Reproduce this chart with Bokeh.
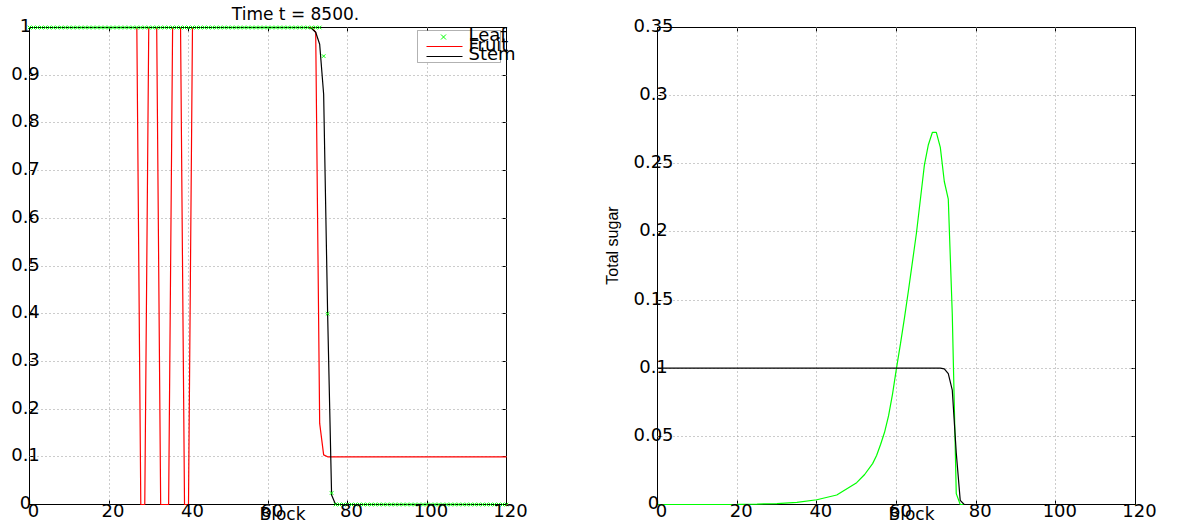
import math
from bokeh.plotting import figure
from bokeh.models import Range1d, LinearAxis, FixedTicker, Label, BoxAnnotation, Arrow, Grid
from bokeh.layouts import row
from bokeh.embed import file_html
from bokeh.resources import INLINE

# ---------------- data ----------------
leaf_blocks = list(range(0, 121))
leaf_state = [1.0] * 74 + [0.94, 0.40, 0.024] + [0.0] * 44

fruit_blocks = [0, 27, 28, 29, 30, 32, 33, 35, 36, 38, 39, 40, 41, 71, 72, 73, 74, 75, 120]
fruit_state = [1.0, 1.0, 0.0, 0.0, 1.0, 1.0, 0.0, 0.0, 1.0, 1.0, 0.0, 0.0, 1.0, 1.0, 0.99, 0.17, 0.104, 0.1, 0.1]

stem_blocks = [0, 70, 71, 72, 73, 74, 75, 76, 77, 120]
stem_state = [1.0, 1.0, 0.998, 0.99, 0.965, 0.86, 0.40, 0.02, 0.0, 0.0]

sugar_leaf_blocks = [0, 15, 20, 25, 30, 35, 40, 45, 50, 52, 54, 55, 56, 57, 58, 59, 60, 61, 62,
                     63, 64, 65, 66, 67, 68, 69, 70, 71, 72, 73, 74, 75, 76, 120]
sugar_leaf = [0.0, 0.0, 0.0001, 0.0003, 0.0007, 0.0015, 0.0035, 0.007, 0.016, 0.022, 0.030,
              0.036, 0.044, 0.053, 0.065, 0.081, 0.100, 0.118, 0.137, 0.157, 0.178, 0.199,
              0.224, 0.249, 0.264, 0.273, 0.273, 0.262, 0.237, 0.224, 0.14, 0.008, 0.0, 0.0]

sugar_stem_blocks = [0, 71, 72, 73, 74, 75, 76, 77, 120]
sugar_stem = [0.1, 0.1, 0.0995, 0.096, 0.084, 0.038, 0.003, 0.0, 0.0]

x_ticks = [0, 20, 40, 60, 80, 100, 120]
x_tick_labels = ["0", "20", "40", "60", "80", "100", "120"]
left_y_ticks = [0, 0.1, 0.2, 0.3, 0.4, 0.5, 0.6, 0.7, 0.8, 0.9, 1.0]
left_y_tick_labels = ["0", "0.1", "0.2", "0.3", "0.4", "0.5", "0.6", "0.7", "0.8", "0.9", "1"]
right_y_ticks = [0, 0.05, 0.1, 0.15, 0.2, 0.25, 0.3, 0.35]
right_y_tick_labels = ["0", "0.05", "0.1", "0.15", "0.2", "0.25", "0.3", "0.35"]

title_text = "Time t = 8500."
x_label_text = "Block"
right_y_label_text = "Total sugar"
legend_labels = ["Leaf", "Fruit", "Stem"]

# ---------------- styles / layout ----------------
FONT = "DejaVu Sans"
TICK_FS = "18px"
GREEN = "#00ff00"
RED = "#ff0000"
BLACK = "#000000"
GRID_COLOR = "#999999"
LW = 1.2
FIG_H = 524
HAS_CROSS_BOUNDS = "cross_bounds" in Grid.properties()


class Panel:
    """A figure whose frame fills the whole canvas; the axes box sits at given page pixels."""

    def __init__(self, fig_left, fig_w, box_l, box_r, box_t, box_b, x_end, y_end):
        self.fig_left = fig_left
        self.box_l, self.box_b = box_l, box_b
        self.ppx = (box_r - box_l) / x_end
        self.ppy = (box_b - box_t) / y_end
        self.x_end, self.y_end = x_end, y_end
        p = figure(width=fig_w, height=FIG_H,
                   x_range=Range1d(-(box_l - fig_left) / self.ppx,
                                   x_end + (fig_left + fig_w - box_r) / self.ppx),
                   y_range=Range1d(-(FIG_H - box_b) / self.ppy, y_end + box_t / self.ppy),
                   output_backend="svg", toolbar_location=None, tools="",
                   min_border_left=0, min_border_right=0, min_border_top=0, min_border_bottom=0)
        p.outline_line_color = None
        p.background_fill_color = "white"
        p.border_fill_color = "white"
        self.p = p

    # page pixel -> data
    def dx(self, page_x):
        return (page_x - self.box_l) / self.ppx

    def dy(self, page_y):
        return (self.box_b - page_y) / self.ppy


def style_axis(ax, ticks, loc, bounds):
    ax.ticker = FixedTicker(ticks=ticks)
    ax.fixed_location = loc
    ax.bounds = bounds
    ax.axis_line_color = BLACK
    ax.axis_line_width = 1
    ax.major_tick_in = 4
    ax.major_tick_out = 0
    ax.major_tick_line_color = BLACK
    ax.minor_tick_line_color = None
    ax.major_label_text_color = None
    ax.major_label_standoff = 0
    ax.level = "underlay"


def text_label(x, y, text, size, align="center", font=FONT, **kw):
    return Label(x=x, y=y, text=text, text_align=align, text_baseline="middle",
                 text_font=font, text_font_size=size, text_color=BLACK, **kw)


def setup_axes(P, y_ticks, y_labels):
    p = P.p
    # dotted grid limited to the axes box
    inner_x = x_ticks[1:-1]
    inner_y = y_ticks[1:-1]
    if HAS_CROSS_BOUNDS:
        p.xgrid.ticker = FixedTicker(ticks=inner_x)
        p.ygrid.ticker = FixedTicker(ticks=inner_y)
        p.xgrid.cross_bounds = (0, P.y_end)
        p.ygrid.cross_bounds = (0, P.x_end)
        p.grid.grid_line_color = GRID_COLOR
        p.grid.grid_line_dash = "1 3"
        p.grid.grid_line_width = 1
    else:
        p.grid.visible = False
        p.multi_line([[t, t] for t in inner_x], [[0, P.y_end] for _ in inner_x],
                     line_color=GRID_COLOR, line_dash="1 3", line_width=1, level="underlay")
        p.multi_line([[0, P.x_end] for _ in inner_y], [[t, t] for t in inner_y],
                     line_color=GRID_COLOR, line_dash="1 3", line_width=1, level="underlay")
    style_axis(p.xaxis[0], x_ticks, 0, (0, P.x_end))
    style_axis(p.yaxis[0], y_ticks, 0, (0, P.y_end))
    top = LinearAxis()
    style_axis(top, x_ticks, P.y_end, (0, P.x_end))
    p.add_layout(top, "above")
    right = LinearAxis()
    style_axis(right, y_ticks, P.x_end, (0, P.y_end))
    p.add_layout(right, "right")
    for v, t in zip(x_ticks, x_tick_labels):
        p.add_layout(text_label(v, 0, t, TICK_FS, x_offset=4, y_offset=-6))
    for v, t in zip(y_ticks, y_labels):
        p.add_layout(text_label(0, v, t, TICK_FS, x_offset=-4, y_offset=2))


# ---------------- left panel ----------------
L = Panel(fig_left=0, fig_w=578, box_l=29, box_r=506, box_t=27, box_b=504, x_end=120, y_end=1.0)
pl = L.p
setup_axes(L, left_y_ticks, left_y_tick_labels)
pl.line(fruit_blocks, fruit_state, line_color=RED, line_width=LW)
pl.line(stem_blocks, stem_state, line_color=BLACK, line_width=LW)
pl.scatter(leaf_blocks, leaf_state, marker="x", size=5, line_color=GREEN, line_width=1)

pl.add_layout(text_label(L.dx(295), L.dy(13.5), title_text, "17px"))
pl.add_layout(text_label(L.dx(282), L.dy(513), x_label_text, "17px"))

# legend (drawn by hand to keep the overlapping look of the reference)
pl.add_layout(BoxAnnotation(left=L.dx(417), right=L.dx(500), top=L.dy(30), bottom=L.dy(62),
                            fill_color="white", fill_alpha=1.0, line_color=BLACK, line_width=1))
mx, my, ms = 443, 36.5, 2.5
pl.add_layout(Arrow(end=None, x_start=L.dx(mx - ms), y_start=L.dy(my - ms),
                    x_end=L.dx(mx + ms), y_end=L.dy(my + ms), line_color=GREEN, line_width=1))
pl.add_layout(Arrow(end=None, x_start=L.dx(mx - ms), y_start=L.dy(my + ms),
                    x_end=L.dx(mx + ms), y_end=L.dy(my - ms), line_color=GREEN, line_width=1))
pl.add_layout(Arrow(end=None, x_start=L.dx(426), y_start=L.dy(46), x_end=L.dx(462), y_end=L.dy(46),
                    line_color=RED, line_width=LW))
pl.add_layout(Arrow(end=None, x_start=L.dx(426), y_start=L.dy(56), x_end=L.dx(462), y_end=L.dy(56),
                    line_color=BLACK, line_width=LW))
for txt, mid in zip(legend_labels, [33.5, 43.5, 53]):
    pl.add_layout(text_label(L.dx(468), L.dy(mid), txt, "18px", align="left"))

# ---------------- right panel ----------------
R = Panel(fig_left=578, fig_w=592, box_l=657, box_r=1135, box_t=27, box_b=504, x_end=120, y_end=0.35)
pr = R.p
setup_axes(R, right_y_ticks, right_y_tick_labels)
pr.line(sugar_leaf_blocks, sugar_leaf, line_color=GREEN, line_width=LW)
pr.line(sugar_stem_blocks, sugar_stem, line_color=BLACK, line_width=LW)

pr.add_layout(text_label(R.dx(911), R.dy(513), x_label_text, "17px"))
pr.add_layout(text_label(R.dx(612), R.dy(245), right_y_label_text, "16px",
                         font="Liberation Sans", angle=math.pi / 2))

layout = row(pl, pr)
open("out.html", "w").write(file_html(layout, INLINE))
